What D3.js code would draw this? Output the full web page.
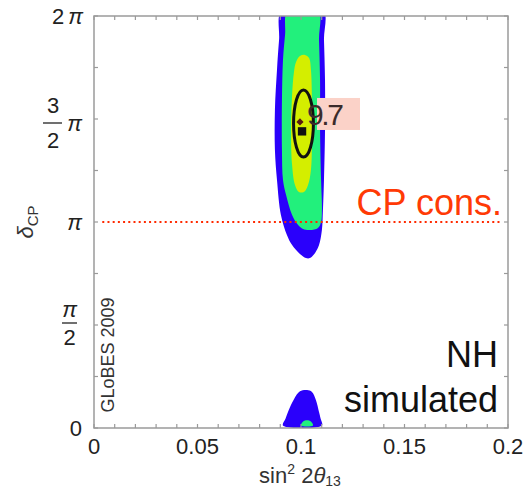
<!DOCTYPE html>
<html>
<head>
<meta charset="utf-8">
<script src="https://cdn.jsdelivr.net/npm/d3@7"></script>
<style>
  html, body { margin: 0; padding: 0; background: #fff; }
  svg { display: block; font-family: Arial, "Liberation Sans", sans-serif; }
</style>
</head>
<body>
<svg id="chart" width="530" height="490"></svg>
<script>
// ---------------- data ----------------
// x: sin^2 2theta13, y: deltaCP in units of pi
const xTicks = [0, 0.05, 0.1, 0.15, 0.2];
const xTickLabels = ["0", "0.05", "0.1", "0.15", "0.2"];
const yTicks = [0, 0.5, 1, 1.5, 2];
const yTickLabels = [["0"], ["π", "2"], ["π"], ["3", "2", "π"], ["2", "π"]];

// 3 sigma (blue) region, upper island
const blueRegion = [
  [0.0908, 2.03], [0.1106, 2.03], [0.1111, 1.883], [0.1116, 1.689], [0.1116, 1.447],
  [0.1111, 1.204], [0.1106, 1.058], [0.1101, 0.961], [0.1087, 0.888], [0.1068, 0.850],
  [0.1043, 0.825], [0.1024, 0.825], [0.0995, 0.845], [0.0957, 0.888], [0.0932, 0.937],
  [0.0903, 1.034], [0.0884, 1.204], [0.0874, 1.350], [0.0874, 1.544], [0.0884, 1.738],
  [0.0894, 1.883]
];
// 2 sigma (green) region
const greenRegion = [
  [0.0937, 2.03], [0.1082, 2.03], [0.1087, 1.883], [0.1092, 1.689], [0.1092, 1.447],
  [0.1097, 1.204], [0.1101, 1.058], [0.1097, 1.000], [0.1082, 0.971], [0.1043, 0.961],
  [0.1010, 0.966], [0.0986, 0.985], [0.0957, 1.034], [0.0928, 1.131], [0.0913, 1.204],
  [0.0908, 1.350], [0.0908, 1.592], [0.0913, 1.786], [0.0923, 1.908]
];
// 1 sigma (yellow) region
const yellowRegion = [
  [0.0976, 1.777], [0.0995, 1.806], [0.1019, 1.811], [0.1039, 1.796], [0.1048, 1.738],
  [0.1053, 1.592], [0.1053, 1.398], [0.1048, 1.252], [0.1034, 1.180], [0.1014, 1.146],
  [0.0990, 1.146], [0.0971, 1.180], [0.0957, 1.277], [0.0952, 1.447], [0.0957, 1.617],
  [0.0966, 1.728]
];
// lower island (near deltaCP = 0)
const blueLower = [
  [0.0913, 0.012], [0.0925, 0.045], [0.0940, 0.085], [0.0966, 0.140], [0.0995, 0.178],
  [0.1029, 0.184], [0.1053, 0.175], [0.1072, 0.136], [0.1087, 0.078], [0.1095, 0.045],
  [0.1101, 0.012]
];
const greenLower = [[0.1000, 0.012], [0.1010, 0.032], [0.1029, 0.038], [0.1048, 0.032], [0.1058, 0.012]];

// true-value contour ellipse: centre, semi-axes
const ellipseCenter = [0.1012, 1.478];
const ellipseRadii = [0.0048, 0.163];
const bestFit = [0.0995, 1.486];     // diamond
const truePoint = [0.1005, 1.440];   // square
const labelValue = "9.7";
const labelAnchor = [0.1029, 1.471];
const cpConserving = 1;              // delta = pi
const cpLineRange = [0.004, 0.196];

// ---------------- drawing ----------------
const svg = d3.select("#chart");
const L = 94, R = 508, T = 16, B = 428;
const x = d3.scaleLinear().domain([0, 0.2]).range([L, R]);
const y = d3.scaleLinear().domain([0, 2]).range([B, T]);

const defs = svg.append("defs");
defs.append("clipPath").attr("id", "clip")
  .append("rect").attr("x", L).attr("y", T).attr("width", R - L).attr("height", B - T);

const gPlot = svg.append("g").attr("clip-path", "url(#clip)");
const area = d3.line().x(d => x(d[0])).y(d => y(d[1])).curve(d3.curveCatmullRomClosed.alpha(0.5));

const BLUE = "#2a00fb", GREEN = "#22f07c", YELLOW = "#d4ee00";
gPlot.append("path").attr("d", area(blueRegion)).attr("fill", BLUE);
gPlot.append("path").attr("d", area(greenRegion)).attr("fill", GREEN);
gPlot.append("path").attr("d", area(yellowRegion)).attr("fill", YELLOW);
gPlot.append("path").attr("d", area(blueLower)).attr("fill", BLUE);
gPlot.append("path").attr("d", area(greenLower)).attr("fill", GREEN);

// ellipse
const cx = x(ellipseCenter[0]), cy = y(ellipseCenter[1]);
const rx = x(ellipseCenter[0] + ellipseRadii[0]) - cx;
const ry = cy - y(ellipseCenter[1] + ellipseRadii[1]);
gPlot.append("ellipse").attr("cx", cx).attr("cy", cy).attr("rx", rx).attr("ry", ry)
  .attr("fill", "none").attr("stroke", "#111").attr("stroke-width", 3);

// label box
const lx = x(labelAnchor[0]), ly = y(labelAnchor[1]);
svg.append("rect").attr("x", lx + 10).attr("y", ly - 27).attr("width", 43).attr("height", 32)
  .attr("fill", "#fbd2c8");
svg.append("text").attr("x", lx).attr("y", ly).attr("font-size", 30).attr("fill", "#3b2b2b")
  .attr("textLength", 37).text(labelValue);

// markers
svg.append("path").attr("transform", `translate(${x(truePoint[0])},${y(truePoint[1])})`)
  .attr("d", d3.symbol(d3.symbolSquare, 70)()).attr("fill", "#111");
svg.append("path").attr("transform", `translate(${x(bestFit[0])},${y(bestFit[1])}) rotate(45)`)
  .attr("d", d3.symbol(d3.symbolSquare, 26)()).attr("fill", "#5a1a10");

// CP conserving line
svg.append("line")
  .attr("x1", x(cpLineRange[0])).attr("x2", x(cpLineRange[1]))
  .attr("y1", y(cpConserving)).attr("y2", y(cpConserving))
  .attr("stroke", "#ff2a00").attr("stroke-width", 2).attr("stroke-dasharray", "2,3.2");
svg.append("text").attr("x", 502).attr("y", 215).attr("text-anchor", "end")
  .attr("font-size", 36).attr("fill", "#ff3a05").text("CP cons.");

// NH simulated
svg.append("text").attr("x", 498).attr("y", 367).attr("text-anchor", "end")
  .attr("font-size", 36).attr("fill", "#111").text("NH");
svg.append("text").attr("x", 498).attr("y", 412).attr("text-anchor", "end")
  .attr("font-size", 36).attr("fill", "#111").text("simulated");

// GLoBES label
svg.append("text").attr("transform", "translate(114,355) rotate(-90)")
  .attr("text-anchor", "middle").attr("font-size", 18).attr("fill", "#333").text("GLoBES 2009");

// frame
const AX = "#9a9a9a";
svg.append("rect").attr("x", L).attr("y", T).attr("width", R - L).attr("height", B - T)
  .attr("fill", "none").attr("stroke", AX).attr("stroke-width", 1.5);

// minor/major ticks
const xt = x.ticks(20);
const yt = d3.range(0, 2.0001, 0.25);
const tk = svg.append("g").attr("stroke", AX).attr("stroke-width", 1.2);
xt.forEach(v => {
  tk.append("line").attr("x1", x(v)).attr("x2", x(v)).attr("y1", B).attr("y2", B - 4);
  tk.append("line").attr("x1", x(v)).attr("x2", x(v)).attr("y1", T).attr("y2", T + 4);
});
yt.forEach(v => {
  tk.append("line").attr("x1", L).attr("x2", L + 4).attr("y1", y(v)).attr("y2", y(v));
  tk.append("line").attr("x1", R).attr("x2", R - 4).attr("y1", y(v)).attr("y2", y(v));
});

// x tick labels
xTicks.forEach((v, i) => {
  svg.append("text").attr("x", x(v)).attr("y", 454).attr("text-anchor", "middle")
    .attr("font-size", 22).attr("fill", "#222").text(xTickLabels[i]);
});

// y tick labels
const fs = 22;
yTicks.forEach((v, i) => {
  const lab = yTickLabels[i];
  const yy = y(v);
  const g = svg.append("g").attr("fill", "#222").attr("font-size", fs);
  if (lab.length === 1) {
    const t = g.append("text").attr("x", 82).attr("y", yy + 8).attr("text-anchor", "end").text(lab[0]);
    if (lab[0] === "π") t.attr("font-style", "italic");
  } else if (lab.length === 2 && lab[0] === "π") {
    g.append("text").attr("x", 69.5).attr("y", yy - 8).attr("text-anchor", "middle").attr("font-style", "italic").text(lab[0]);
    g.append("line").attr("x1", 62).attr("x2", 77).attr("y1", yy - 2).attr("y2", yy - 2).attr("stroke", "#222").attr("stroke-width", 1.3);
    g.append("text").attr("x", 69.5).attr("y", yy + 20).attr("text-anchor", "middle").text(lab[1]);
  } else if (lab.length === 2) {
    g.append("text").attr("x", 58).attr("y", yy + 8).attr("text-anchor", "middle").text(lab[0]);
    g.append("text").attr("x", 83).attr("y", yy + 8).attr("text-anchor", "end").attr("font-style", "italic").text(lab[1]);
  } else {
    g.append("text").attr("x", 53).attr("y", yy - 6).attr("text-anchor", "middle").text(lab[0]);
    g.append("line").attr("x1", 43).attr("x2", 62).attr("y1", yy + 4).attr("y2", yy + 4).attr("stroke", "#222").attr("stroke-width", 1.3);
    g.append("text").attr("x", 53).attr("y", yy + 29).attr("text-anchor", "middle").text(lab[1]);
    g.append("text").attr("x", 82).attr("y", yy + 12).attr("text-anchor", "end").attr("font-style", "italic").text(lab[2]);
  }
});

// axis titles
const xl = svg.append("text").attr("x", 300).attr("y", 483).attr("text-anchor", "middle")
  .attr("font-size", 22).attr("fill", "#333");
xl.append("tspan").text("sin");
xl.append("tspan").attr("font-size", 14).attr("dy", -9).text("2");
xl.append("tspan").attr("dy", 9).text(" 2");
xl.append("tspan").attr("font-style", "italic").text("θ");
xl.append("tspan").attr("font-size", 14).attr("dy", 3).text("13");

const yl = svg.append("text").attr("transform", "translate(33,222) rotate(-90)")
  .attr("text-anchor", "middle").attr("font-size", 22).attr("fill", "#333");
yl.append("tspan").attr("font-style", "italic").text("δ");
yl.append("tspan").attr("font-size", 15).attr("dy", 5).text("CP");
</script>
</body>
</html>
